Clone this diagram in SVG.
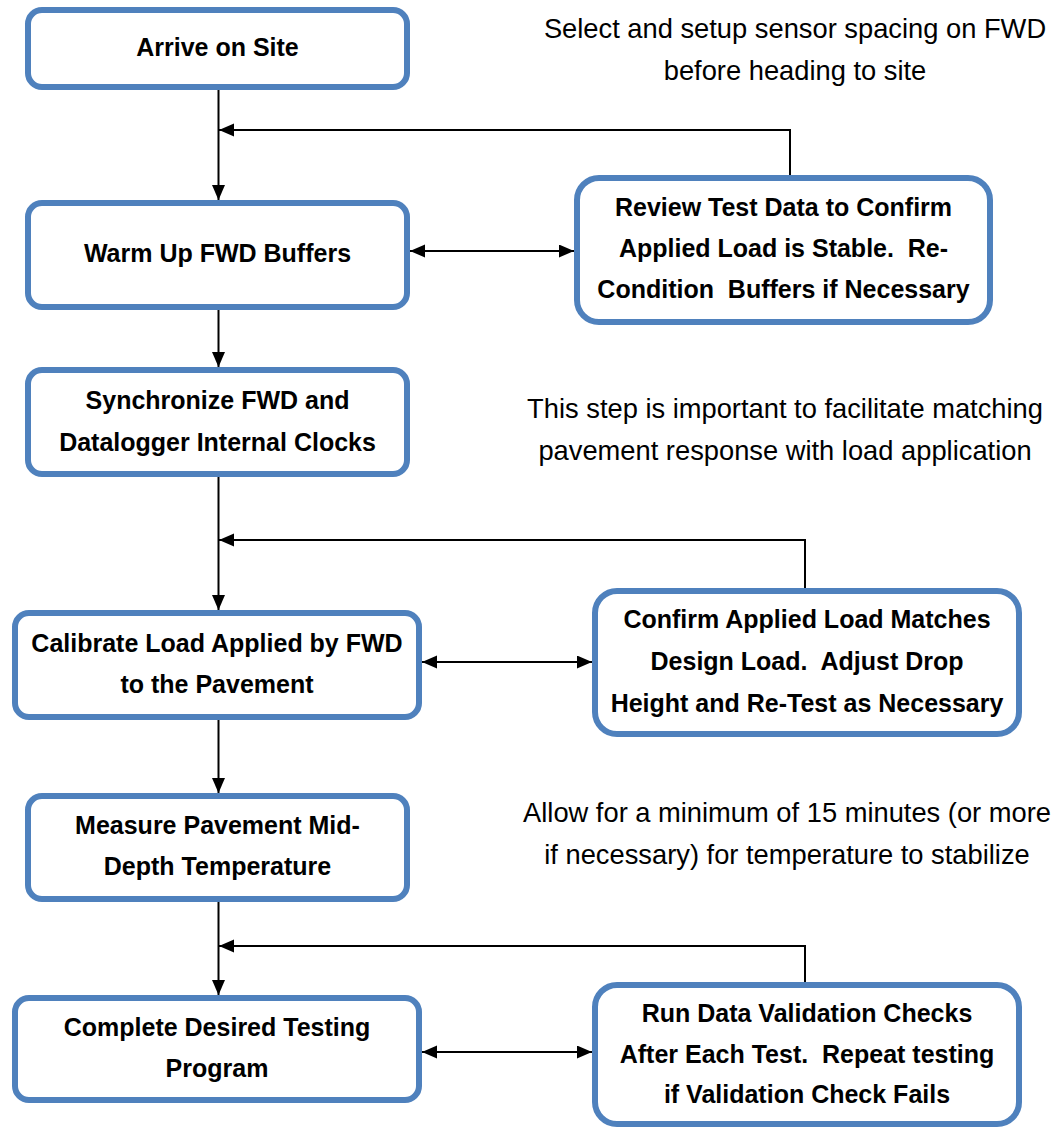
<svg xmlns="http://www.w3.org/2000/svg" width="1055" height="1128" viewBox="0 0 1055 1128">
<defs>
<marker id="ah" markerUnits="userSpaceOnUse" markerWidth="16" markerHeight="14" refX="15" refY="6.5" orient="auto-start-reverse">
<path d="M0,0 L15,6.5 L0,13 z" fill="#000"/>
</marker>
<style>
.box{fill:#fff;stroke:#4F81BD;stroke-width:6}
.bt{font-family:"Liberation Sans",Arial,sans-serif;font-weight:bold;font-size:25px;fill:#000;text-anchor:middle;white-space:pre}
.nt{font-family:"Liberation Sans",Arial,sans-serif;font-size:27.3px;fill:#000;text-anchor:middle;white-space:pre}
.c{fill:none;stroke:#000;stroke-width:2}
.fb{fill:none;stroke:#000;stroke-width:2}
</style>
</defs>
<rect width="1055" height="1128" fill="#fff"/>
<g id="connectors">
<line class="c" x1="218.5" y1="90" x2="218.5" y2="200" marker-end="url(#ah)"/>
<polyline class="fb" points="790,176 790,130 219,130" marker-end="url(#ah)"/>
<line class="c" x1="410" y1="251" x2="574" y2="251" marker-start="url(#ah)" marker-end="url(#ah)"/>
<line class="c" x1="218.5" y1="310" x2="218.5" y2="367" marker-end="url(#ah)"/>
<line class="c" x1="218.5" y1="477" x2="218.5" y2="610" marker-end="url(#ah)"/>
<polyline class="fb" points="805,589 805,540 219,540" marker-end="url(#ah)"/>
<line class="c" x1="422" y1="662" x2="592" y2="662" marker-start="url(#ah)" marker-end="url(#ah)"/>
<line class="c" x1="218.5" y1="720" x2="218.5" y2="793" marker-end="url(#ah)"/>
<line class="c" x1="218.5" y1="902" x2="218.5" y2="995" marker-end="url(#ah)"/>
<polyline class="fb" points="805,983 805,946 219,946" marker-end="url(#ah)"/>
<line class="c" x1="422" y1="1052" x2="592" y2="1052" marker-start="url(#ah)" marker-end="url(#ah)"/>
</g>
<g id="arrive">
<rect class="box" x="28" y="10" width="379" height="77" rx="14"/>
<text class="bt" x="217.5" y="56">Arrive on Site</text>
</g>
<g id="note-sensor">
<text class="nt" x="795" y="38">Select and setup sensor spacing on FWD</text>
<text class="nt" x="795" y="80">before heading to site</text>
</g>
<g id="warmup">
<rect class="box" x="28" y="203" width="379" height="104" rx="14"/>
<text class="bt" x="217.5" y="262">Warm Up FWD Buffers</text>
</g>
<g id="review">
<rect class="box" x="577" y="178" width="413" height="144" rx="22"/>
<text class="bt" x="783.5" y="216">Review Test Data to Confirm</text>
<text class="bt" x="783.5" y="257">Applied Load is Stable.  Re-</text>
<text class="bt" x="783.5" y="298">Condition  Buffers if Necessary</text>
</g>
<g id="sync">
<rect class="box" x="28" y="370" width="379" height="104" rx="14"/>
<text class="bt" x="217.5" y="409">Synchronize FWD and</text>
<text class="bt" x="217.5" y="451">Datalogger Internal Clocks</text>
</g>
<g id="note-sync">
<text class="nt" x="785" y="418">This step is important to facilitate matching</text>
<text class="nt" x="785" y="460">pavement response with load application</text>
</g>
<g id="calibrate">
<rect class="box" x="15" y="613" width="404" height="104" rx="14"/>
<text class="bt" x="217" y="652">Calibrate Load Applied by FWD</text>
<text class="bt" x="217" y="693">to the Pavement</text>
</g>
<g id="confirm">
<rect class="box" x="595" y="591" width="424" height="143" rx="22"/>
<text class="bt" x="807" y="628">Confirm Applied Load Matches</text>
<text class="bt" x="807" y="670">Design Load.  Adjust Drop</text>
<text class="bt" x="807" y="712">Height and Re-Test as Necessary</text>
</g>
<g id="measure">
<rect class="box" x="28" y="796" width="379" height="103" rx="14"/>
<text class="bt" x="217.5" y="834">Measure Pavement Mid-</text>
<text class="bt" x="217.5" y="875">Depth Temperature</text>
</g>
<g id="note-temp">
<text class="nt" x="787" y="822">Allow for a minimum of 15 minutes (or more</text>
<text class="nt" x="787" y="864">if necessary) for temperature to stabilize</text>
</g>
<g id="complete">
<rect class="box" x="15" y="998" width="404" height="102" rx="14"/>
<text class="bt" x="217" y="1036">Complete Desired Testing</text>
<text class="bt" x="217" y="1077">Program</text>
</g>
<g id="validate">
<rect class="box" x="595" y="985" width="424" height="139" rx="22"/>
<text class="bt" x="807" y="1022">Run Data Validation Checks</text>
<text class="bt" x="807" y="1063">After Each Test.  Repeat testing</text>
<text class="bt" x="807" y="1103">if Validation Check Fails</text>
</g>
</svg>
